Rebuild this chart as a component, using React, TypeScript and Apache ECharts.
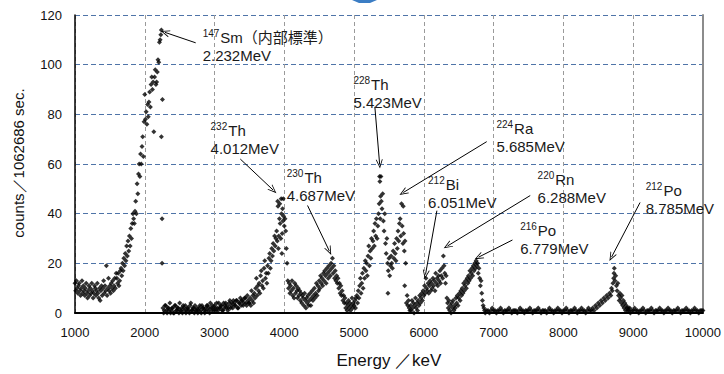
import React, { useEffect, useRef } from 'react';
import * as echarts from 'echarts';

// ---- spectrum data: [energy keV, counts] ----
const smPeak: [number, number][] = [
[1000,12],[1010,9],[1020,13],[1030,10],[1040,8],[1050,11],[1060,12],[1070,9],[1080,7],[1090,10],
[1100,13],[1110,8],[1120,11],[1130,9],[1140,7],[1150,10],[1160,12],[1170,8],[1180,6],[1190,9],
[1200,11],[1210,7],[1220,10],[1230,8],[1240,12],[1250,9],[1260,6],[1270,8],[1280,11],[1290,10],
[1300,7],[1310,9],[1320,12],[1330,8],[1340,6],[1350,10],[1360,5],[1370,9],[1380,11],[1390,7],
[1400,10],[1410,13],[1420,8],[1430,11],[1440,9],[1450,19],[1460,7],[1470,10],[1480,14],[1490,9],
[1500,11],[1510,8],[1520,12],[1530,10],[1540,13],[1550,9],[1560,11],[1570,14],[1580,10],[1590,16],
[1600,14],[1610,12],[1620,16],[1630,11],[1640,13],[1650,17],[1660,18],[1670,15],[1680,20],[1690,17],
[1700,22],[1710,19],[1720,24],[1730,21],[1740,27],[1750,23],[1760,29],[1770,25],[1780,31],[1790,27],
[1800,34],[1810,30],[1820,36],[1830,40],[1840,38],[1850,36],[1860,41],[1870,45],[1880,40],[1890,52],
[1900,48],[1910,56],[1920,60],[1930,55],[1940,64],[1950,60],[1960,67],[1970,71],[1980,63],[1990,77],
[2000,88],[2010,78],[2020,81],[2030,76],[2040,84],[2050,79],[2060,85],[2070,89],[2080,83],[2090,92],
[2100,95],[2110,90],[2120,93],[2130,73],[2140,95],[2150,98],[2160,92],[2170,93],[2180,97],[2190,102],
[2200,101],[2210,109],[2220,110],[2230,112],[2238,114],[2248,38],[2248,20],[2253,86],[2238,71]
];

const lowBand: [number, number][] = [
[2260,2],[2270,0],[2280,1],[2290,3],[2300,3],[2310,1],[2320,0],[2330,2],[2340,2],[2350,1],
[2360,4],[2370,0],[2380,1],[2390,2],[2400,2],[2410,0],[2420,0],[2430,3],[2440,3],[2450,1],
[2460,1],[2470,2],[2480,2],[2490,0],[2500,4],[2510,1],[2520,1],[2530,2],[2540,0],[2550,3],
[2560,2],[2570,1],[2580,3],[2590,0],[2600,1],[2610,2],[2620,2],[2630,1],[2640,0],[2650,3],
[2660,4],[2670,1],[2680,1],[2690,2],[2700,2],[2710,0],[2720,3],[2730,1],[2740,1],[2750,2],
[2760,0],[2770,1],[2780,2],[2790,3],[2800,1],[2810,0],[2820,3],[2830,2],[2840,2],[2850,1],
[2860,0],[2870,2],[2880,1],[2890,3],[2900,3],[2910,1],[2920,2],[2930,0],[2940,4],[2950,2],
[2960,1],[2970,3],[2980,2],[2990,1],[3000,3],[3010,2],[3020,1],[3030,4],[3040,2],[3050,1],
[3060,4],[3070,2],[3080,2],[3090,3],[3100,3],[3110,1],[3120,1],[3130,4],[3140,2],[3150,3],
[3160,4],[3170,2],[3180,3],[3190,1],[3200,2],[3210,4],[3220,5],[3230,2],[3240,3],[3250,4],
[3260,2],[3270,5],[3280,4],[3290,3],[3300,3],[3310,5],[3320,5],[3330,2],[3340,2],[3350,4],
[3360,4],[3370,6],[3380,3],[3390,5],[3400,5],[3410,3],[3420,4],[3430,6],[3440,6],[3450,4],
[3460,3],[3470,7],[3480,5],[3490,4]
];

const th232Peak: [number, number][] = [
[3500,4],[3510,6],[3520,3],[3530,9],[3540,5],[3550,7],[3560,4],[3570,8],[3580,6],[3590,10],
[3600,14],[3610,7],[3620,11],[3630,9],[3640,12],[3650,8],[3660,15],[3670,17],[3680,11],[3690,13],
[3700,10],[3710,18],[3720,21],[3730,14],[3740,16],[3750,12],[3760,19],[3770,16],[3780,22],[3790,24],
[3800,18],[3810,21],[3820,26],[3830,23],[3840,28],[3850,25],[3860,31],[3870,27],[3880,30],[3890,33],
[3900,29],[3905,45],[3910,43],[3915,26],[3920,31],[3930,38],[3935,44],[3940,36],[3950,30],[3955,46],
[3960,40],[3965,24],[3970,32],[3975,42],[3980,37],[3985,46],[3990,39],[4000,35],[4010,38],[4020,33],
[4030,26],[4040,20]
];

const th230Peak: [number, number][] = [
[4050,13],[4060,10],[4070,12],[4080,8],[4090,11],[4100,9],[4110,13],[4120,7],[4130,10],[4140,6],
[4150,12],[4160,8],[4170,11],[4180,9],[4190,6],[4200,10],[4210,7],[4220,9],[4230,5],[4240,8],
[4250,4],[4260,7],[4270,6],[4280,3],[4290,8],[4300,5],[4310,2],[4320,6],[4330,4],[4340,7],
[4350,3],[4360,5],[4370,8],[4380,3],[4390,6],[4400,9],[4410,5],[4420,7],[4430,10],[4440,6],
[4450,8],[4460,12],[4470,7],[4480,11],[4490,9],[4500,13],[4510,10],[4520,15],[4530,12],[4540,14],
[4550,11],[4560,16],[4570,13],[4580,17],[4590,15],[4600,12],[4610,18],[4620,16],[4630,14],[4640,19],
[4650,17],[4660,15],[4670,20],[4680,18],[4690,22],[4700,16],[4710,19],[4720,14],[4730,17],[4740,13],
[4750,15],[4760,12],[4770,14],[4780,10],[4790,12],[4800,8],[4810,11],[4820,7],[4830,9],[4840,5],
[4850,7],[4860,4],[4870,6],[4880,2],[4890,4],[4900,1],[4910,3],[4920,5],[4930,2],[4940,4],
[4950,1],[4960,3],[4970,6],[4980,2],[4990,4]
];

const th228RaPeaks: [number, number][] = [
[5000,3],[5010,5],[5020,2],[5030,6],[5040,7],[5050,4],[5060,9],[5070,6],[5080,11],[5090,14],
[5100,8],[5110,12],[5120,16],[5130,10],[5140,18],[5150,14],[5160,21],[5170,17],[5180,20],[5190,15],
[5200,23],[5210,27],[5220,19],[5230,25],[5240,22],[5250,30],[5260,26],[5270,29],[5280,33],[5290,27],
[5300,36],[5310,31],[5320,38],[5330,30],[5340,35],[5350,40],[5360,44],[5365,55],[5370,53],[5375,38],
[5380,47],[5385,55],[5390,45],[5400,42],[5410,48],[5420,37],[5430,33],[5440,40],[5450,28],[5460,24],
[5470,30],[5480,20],[5485,8],[5490,17],[5500,22],[5510,15],[5520,19],[5530,23],[5540,20],[5550,18],
[5560,25],[5570,22],[5580,28],[5590,24],[5600,21],[5610,30],[5620,26],[5630,33],[5640,29],[5650,36],
[5660,38],[5670,31],[5680,44],[5690,35],[5700,28],[5705,43],[5710,32],[5720,25],[5725,11],[5730,29],
[5740,20],[5750,4],[5760,7],[5770,3],[5780,5],[5790,2],[5800,1]
];

const biRnPoPeaks: [number, number][] = [
[5810,3],[5820,1],[5830,5],[5840,2],[5850,4],[5860,0],[5870,3],[5880,6],[5890,2],[5900,4],
[5910,1],[5920,5],[5930,3],[5940,7],[5950,4],[5960,6],[5970,8],[5980,5],[5990,9],[6000,7],
[6010,11],[6020,8],[6030,14],[6040,10],[6050,9],[6060,12],[6070,8],[6080,11],[6090,13],[6100,9],
[6110,12],[6120,10],[6130,14],[6140,11],[6150,13],[6160,9],[6170,16],[6180,12],[6190,14],[6200,11],
[6210,15],[6220,13],[6230,17],[6240,12],[6250,15],[6260,18],[6270,14],[6280,23],[6290,19],[6300,16],
[6310,12],[6320,15],[6330,6],[6340,4],[6350,2],[6360,5],[6370,1],[6380,3],[6390,0],[6400,4],
[6410,2],[6420,5],[6430,1],[6440,3],[6450,2],[6460,6],[6470,4],[6480,7],[6490,3],[6500,6],
[6510,8],[6520,5],[6530,9],[6540,7],[6550,10],[6560,8],[6570,12],[6580,9],[6590,11],[6600,13],
[6610,10],[6620,14],[6630,12],[6640,15],[6650,13],[6660,17],[6670,14],[6680,16],[6690,18],[6700,15],
[6710,19],[6720,17],[6730,20],[6740,18],[6750,21],[6760,19],[6770,20],[6780,16],[6790,18],[6800,14],
[6810,11],[6820,13],[6830,8],[6840,5],[6850,3],[6860,2],[6870,1],[6880,0]
];

const flatRegion: [number, number][] = [
[6900,1],[6920,1],[6940,0],[6960,1],[6980,2],[7000,1],[7020,1],[7040,0],[7060,1],[7080,1],
[7100,2],[7120,1],[7140,0],[7160,1],[7180,1],[7200,1],[7220,2],[7240,1],[7260,0],[7280,1],
[7300,1],[7320,1],[7340,0],[7360,1],[7380,2],[7400,1],[7420,1],[7440,0],[7460,1],[7480,1],
[7500,1],[7520,2],[7540,1],[7560,0],[7580,1],[7600,1],[7620,1],[7640,2],[7660,1],[7680,0],
[7700,1],[7720,1],[7740,1],[7760,0],[7780,1],[7800,2],[7820,1],[7840,1],[7860,0],[7880,1],
[7900,1],[7920,2],[7940,1],[7960,1],[7980,0],[8000,1],[8020,1],[8040,2],[8060,1],[8080,0],
[8100,1],[8120,1],[8140,1],[8160,2],[8180,1],[8200,0],[8220,1],[8240,1],[8260,2],[8280,1],
[8300,1],[8320,0],[8340,1],[8360,2],[8380,1],[8400,1]
];

const po212Peak: [number, number][] = [
[8420,2],[8440,1],[8460,3],[8480,2],[8500,4],[8520,3],[8540,5],[8560,4],[8580,6],[8600,5],
[8620,7],[8640,6],[8660,8],[8680,7],[8690,10],[8700,9],[8710,12],[8720,14],[8725,16],[8730,18],
[8740,13],[8750,15],[8760,11],[8770,9],[8780,12],[8790,7],[8800,5],[8810,8],[8820,6],[8830,4],
[8840,7],[8850,3],[8860,5],[8870,2],[8880,4],[8890,1],[8900,3],[8910,2],[8920,1],[8930,2],
[8940,1],[8950,2]
];

const tailRegion: [number, number][] = [
[8960,0],[8980,1],[9000,1],[9020,2],[9040,1],[9060,1],[9080,0],[9100,1],[9120,1],[9140,2],
[9160,1],[9180,0],[9200,1],[9220,1],[9240,1],[9260,2],[9280,1],[9300,0],[9320,1],[9340,1],
[9360,1],[9380,2],[9400,1],[9420,1],[9440,0],[9460,1],[9480,1],[9500,2],[9520,1],[9540,1],
[9560,0],[9580,1],[9600,1],[9620,1],[9640,2],[9660,1],[9680,0],[9700,1],[9720,1],[9740,1],
[9760,2],[9780,1],[9800,1],[9820,0],[9840,1],[9860,1],[9880,2],[9900,1],[9920,1],[9940,0],
[9960,1],[9980,1],[10000,1]
];

// ---- annotation texts ----
const massNumbers = ['147', '232', '230', '228', '224', '212', '220', '216', '212'];
const nuclides = ['Sm（内部標準）', 'Th', 'Th', 'Th', 'Ra', 'Bi', 'Rn', 'Po', 'Po'];
const alphaEnergies = ['2.232MeV', '4.012MeV', '4.687MeV', '5.423MeV', '5.685MeV', '6.051MeV', '6.288MeV', '6.779MeV', '8.785MeV'];

// axis titles and ticks
const xTitle = 'Energy ／keV';
const yTitle = 'counts／1062686 sec.';
const xMin = 1000, xMax = 10000, xStep = 1000;
const yMin = 0, yMax = 120, yStep = 20;

export default function App() {
  const ref = useRef<HTMLDivElement>(null);
  useEffect(() => {
    const chart = echarts.init(ref.current!, null, { renderer: 'svg' });

    // label anchor (top-left of text block) and arrow endpoints, in data coordinates
    const labelAnchors: [number, number][] = [
      [2830, 114.5], [2943, 77.1], [4035, 58], [4990, 95.8], [7040, 77.9],
      [6060, 55.2], [7630, 57.2], [7380, 37], [9180, 52.9],
    ];
    const arrows: [[number, number], [number, number]][] = [
      [[2730, 108.8], [2290, 113.0]],
      [[3369, 62], [3840, 49.5]],
      [[4333, 43.3], [4645, 25]],
      [[5298, 83], [5366, 60]],
      [[6901, 69], [5705, 48.5]],
      [[6187, 41.2], [6024, 15.5]],
      [[7525, 47.3], [6340, 27]],
      [[7270, 29.4], [6785, 22.5]],
      [[9099, 44.5], [8690, 22.5]],
    ];

    const arrowPath = 'path://M5,0 L10,10 L8.8,10 L5,2.6 L1.2,10 L0,10 Z';
    const latin = '"Liberation Sans", Arial, sans-serif';
    const labelFont = '"Liberation Sans", "Noto Sans CJK JP", sans-serif';

    const data = [
      ...smPeak, ...lowBand, ...th232Peak, ...th230Peak, ...th228RaPeaks,
      ...biRnPoPeaks, ...flatRegion, ...po212Peak, ...tailRegion,
    ];

    chart.setOption({
      animation: false,
      backgroundColor: '#ffffff',
      grid: { left: 75, right: 15, top: 15, bottom: 57, containLabel: false },
      xAxis: {
        type: 'value',
        min: xMin, max: xMax, interval: xStep,
        name: xTitle,
        nameLocation: 'middle',
        nameGap: 39,
        nameTextStyle: { fontFamily: latin, fontSize: 17, color: '#111' },
        axisLine: { show: true, onZero: false, lineStyle: { color: '#000', width: 2 } },
        axisTick: { show: false },
        axisLabel: { margin: 13, fontFamily: latin, fontSize: 13, color: '#111', formatter: (v: number) => String(v) },
        splitLine: { show: true, lineStyle: { color: '#9a9a9a', type: [4, 3], width: 1 } },
      },
      yAxis: [
        {
          type: 'value',
          min: yMin, max: yMax, interval: yStep,
          axisLine: { show: true, lineStyle: { color: '#000', width: 1.5 } },
          axisTick: { show: false },
          axisLabel: { margin: 13, fontFamily: latin, fontSize: 13, color: '#111' },
          splitLine: { show: true, lineStyle: { color: '#4f74a8', type: [5, 3], width: 1 } },
        },
        {
          type: 'value',
          position: 'right',
          min: yMin, max: yMax, interval: yStep,
          axisLine: { show: true, lineStyle: { color: '#8c8c8c', width: 2 } },
          axisTick: { show: false },
          axisLabel: { show: false },
          splitLine: { show: false },
        },
      ],
      series: [
        {
          type: 'scatter',
          data,
          symbol: 'diamond',
          symbolSize: 5,
          itemStyle: { color: '#000' },
          silent: true,
          markLine: {
            silent: true,
            symbol: ['none', arrowPath],
            symbolSize: [7, 9],
            label: { show: false },
            lineStyle: { color: '#000', width: 1, type: 'solid' },
            emphasis: { disabled: true },
            data: arrows.map(([a, b]) => [{ coord: a }, { coord: b }]),
          },
          markPoint: {
            silent: true,
            symbol: 'circle',
            symbolSize: 0,
            itemStyle: { color: 'transparent' },
            data: labelAnchors.map((c, i) => ({
              coord: c,
              label: {
                show: true,
                position: [0, 0],
                align: 'left',
                verticalAlign: 'top',
                formatter: `{s|${massNumbers[i]}}{t|${nuclides[i]}}\n{t|${alphaEnergies[i]}}`,
                rich: {
                  s: { fontFamily: labelFont, fontSize: 10, lineHeight: 8, verticalAlign: 'top', color: '#1a1a1a', padding: [0, 1, 0, 0] },
                  t: { fontFamily: labelFont, fontSize: 15, lineHeight: 18, color: '#1a1a1a' },
                },
              },
            })),
          },
        },
      ],
      graphic: [
        {
          type: 'text',
          x: 18,
          y: 163,
          rotation: Math.PI / 2,
          silent: true,
          style: {
            text: yTitle,
            font: `15px ${latin}`,
            fill: '#111',
            align: 'center',
            verticalAlign: 'middle',
          },
        },
        {
          type: 'polygon',
          shape: { points: [[352, 0], [377, 0], [370, 3], [359, 3]] },
          style: { fill: '#3b7dc4' },
          silent: true,
        },
      ],
    });
    return () => chart.dispose();
  }, []);
  return <div ref={ref} style={{ position: 'fixed', left: 0, top: 0, width: 724, height: 374 }} />;
}
